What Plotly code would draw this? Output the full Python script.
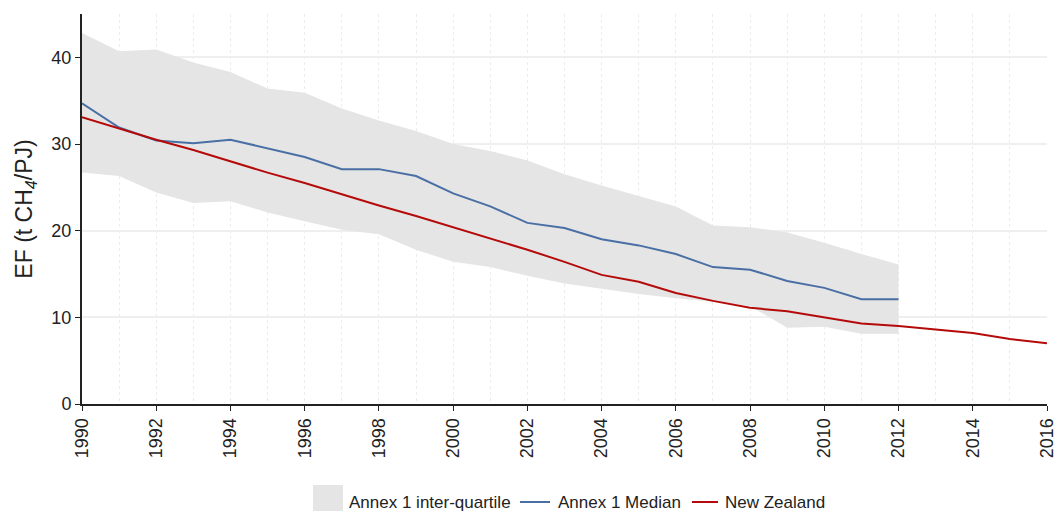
import plotly.graph_objects as go

years = list(range(1990, 2017))
band_years = list(range(1990, 2013))
year_ticks = list(range(1990, 2017, 2))

annex_upper = [42.8, 40.7, 40.9, 39.4, 38.3, 36.4, 35.9, 34.1, 32.7, 31.5, 30.0, 29.2,
               28.1, 26.5, 25.2, 24.0, 22.8, 20.6, 20.4, 19.8, 18.6, 17.3, 16.1]
annex_lower = [26.7, 26.3, 24.4, 23.2, 23.4, 22.1, 21.1, 20.1, 19.6, 17.8, 16.4, 15.8,
               14.8, 13.9, 13.3, 12.7, 12.2, 11.8, 11.3, 8.8, 8.9, 8.1, 8.1]
annex_median = [34.7, 31.9, 30.4, 30.1, 30.5, 29.5, 28.5, 27.1, 27.1, 26.3, 24.3, 22.8,
                20.9, 20.3, 19.0, 18.3, 17.3, 15.8, 15.5, 14.2, 13.4, 12.1, 12.1]
new_zealand = [33.1, 31.8, 30.5, 29.3, 28.0, 26.7, 25.5, 24.2, 22.9, 21.7, 20.4, 19.1,
               17.8, 16.4, 14.9, 14.1, 12.8, 11.9, 11.1, 10.7, 10.0, 9.3, 9.0, 8.6,
               8.2, 7.5, 7.0]

BAND_COLOR = "#e5e5e5"
MEDIAN_COLOR = "#4a6fa5"
NZ_COLOR = "#b50a0a"
TEXT_COLOR = "#222222"
FONT = "Liberation Sans, Arial, sans-serif"

W, H = 1056, 511
M_L, M_R, M_T, M_B = 82, 9, 14, 107
PW, PH = W - M_L - M_R, H - M_T - M_B


def px_x(x):
    return (x - M_L) / PW


def px_y(y):
    return (H - M_B - y) / PH


fig = go.Figure()

# inter-quartile band as one closed polygon
fig.add_trace(go.Scatter(
    x=band_years + band_years[::-1],
    y=annex_upper + annex_lower[::-1],
    fill="toself", fillcolor=BAND_COLOR, mode="lines",
    line=dict(width=0, color=BAND_COLOR),
    name="Annex 1 inter-quartile", hoverinfo="skip", showlegend=False,
))
fig.add_trace(go.Scatter(
    x=band_years, y=annex_median, mode="lines",
    line=dict(color=MEDIAN_COLOR, width=2), name="Annex 1 Median", showlegend=False,
))
fig.add_trace(go.Scatter(
    x=years, y=new_zealand, mode="lines",
    line=dict(color=NZ_COLOR, width=2), name="New Zealand", showlegend=False,
))

# legend row below the axis
legend_y = px_y(502)
shapes = [
    dict(type="rect", xref="paper", yref="paper",
         x0=px_x(313), x1=px_x(343), y0=px_y(485), y1=px_y(511),
         fillcolor=BAND_COLOR, line=dict(width=0), layer="above"),
    dict(type="line", xref="paper", yref="paper",
         x0=px_x(520), x1=px_x(550), y0=legend_y, y1=legend_y,
         line=dict(color=MEDIAN_COLOR, width=2)),
    dict(type="line", xref="paper", yref="paper",
         x0=px_x(692), x1=px_x(718), y0=legend_y, y1=legend_y,
         line=dict(color=NZ_COLOR, width=2)),
]
legend_labels = [("Annex 1 inter-quartile", 347), ("Annex 1 Median", 556), ("New Zealand", 723)]
annotations = [
    dict(text=t, xref="paper", yref="paper", x=px_x(xp), y=legend_y,
         xanchor="left", yanchor="middle", showarrow=False,
         font=dict(size=17, color=TEXT_COLOR, family=FONT))
    for t, xp in legend_labels
]

fig.update_layout(
    width=W, height=H,
    margin=dict(l=M_L, r=M_R, t=M_T, b=M_B),
    plot_bgcolor="white", paper_bgcolor="white",
    font=dict(family=FONT, color=TEXT_COLOR),
    showlegend=False,
    shapes=shapes, annotations=annotations,
    xaxis=dict(
        range=[1990, 2016], tickmode="array", tickvals=year_ticks,
        ticktext=[str(y) for y in year_ticks],
        tickangle=-90, tickfont=dict(size=18), ticklabeloverflow="allow",
        showline=True, linecolor=TEXT_COLOR, linewidth=2,
        ticks="outside", ticklen=5, tickcolor=TEXT_COLOR,
        showgrid=False, zeroline=False, automargin=False,
        minor=dict(tickvals=years, showgrid=True, gridcolor="#ececec",
                   griddash="dot", gridwidth=1),
    ),
    yaxis=dict(
        range=[0, 45], tickvals=[0, 10, 20, 30, 40], tickfont=dict(size=18),
        showline=True, linecolor=TEXT_COLOR, linewidth=2,
        ticks="outside", ticklen=5, tickcolor=TEXT_COLOR,
        showgrid=True, gridcolor="#efefef", gridwidth=1.5, zeroline=False,
        automargin=False,
        title=dict(text="EF (t CH<sub><i>4</i></sub>/PJ)", font=dict(size=23), standoff=12),
    ),
)

fig.write_html("out.html")
